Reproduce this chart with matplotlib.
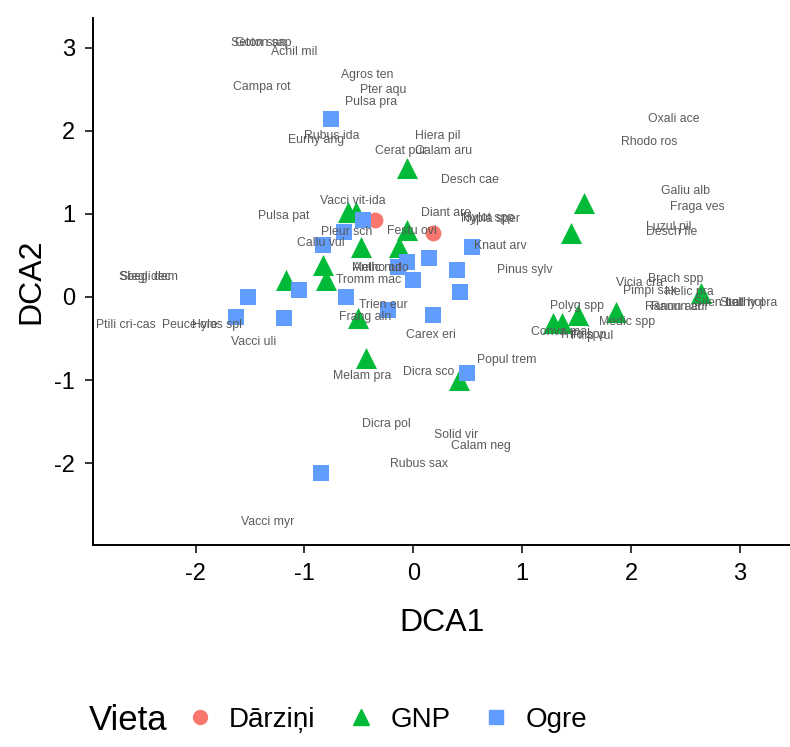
import matplotlib
matplotlib.use("Agg")
import matplotlib.pyplot as plt
from matplotlib.lines import Line2D
from matplotlib.offsetbox import HPacker

plt.rcParams['font.family'] = ['Liberation Sans', 'DejaVu Sans']
plt.rcParams['axes.unicode_minus'] = False

# site scores (DCA1, DCA2) per group
darzini_x = [-0.35, 0.18]
darzini_y = [0.93, 0.77]

gnp_x = [-0.06, -0.60, -0.53, -0.48, -0.06, -0.13, -0.83, -0.80, -1.17, -0.51,
         -0.43, 0.42, 1.57, 1.45, 1.28, 1.37, 1.51, 1.86, 2.64]
gnp_y = [1.55, 1.02, 1.02, 0.60, 0.81, 0.60, 0.39, 0.20, 0.20, -0.25,
         -0.73, -1.00, 1.13, 0.77, -0.31, -0.31, -0.22, -0.18, 0.05]

ogre_x = [-0.76, -0.46, -0.64, -0.83, 0.14, 0.54, -0.14, -0.06, 0.00, 0.40,
          0.43, -0.62, -1.05, -1.19, -0.23, 0.18, -1.52, -1.63, 0.49, -0.85]
ogre_y = [2.14, 0.93, 0.78, 0.63, 0.47, 0.60, 0.36, 0.42, 0.20, 0.33,
          0.06, 0.00, 0.08, -0.25, -0.16, -0.22, 0.00, -0.24, -0.92, -2.12]

# species scores
species = ["Seton san", "Goton sap", "Achil mil", "Campa rot", "Agros ten", "Pter aqu",
           "Pulsa pra", "Rubus ida", "Eurhy ang", "Hiera pil", "Cerat pur", "Calam aru",
           "Desch cae", "Oxali ace", "Rhodo ros", "Galiu alb", "Fraga ves", "Luzul pil",
           "Desch fle", "Vacci vit-ida", "Pulsa pat", "Diant are", "Hylot spp", "Nypla sper",
           "Pleur sch", "Festu ovi", "Callu vul", "Knaut arv", "Pinus sylv", "Antho odo",
           "Melic nut", "Tromm mac", "Siegl dec", "Sbegi dem", "Trien eur", "Frang aln",
           "Ptili cri-cas", "Peuce ore", "Hylos spl", "Vacci uli", "Carex eri", "Melam pra",
           "Dicra sco", "Popul trem", "Dicra pol", "Solid vir", "Calam neg", "Rubus sax",
           "Vacci myr", "Polyg spp", "Medic spp", "Conva maj", "Trifo spp", "Filip vul",
           "Vicia cra", "Brach spp", "Pimpi sax", "Helic pra", "Ranun acr", "Ranun aur",
           "Silen nut", "Stell hol", "Lathy pra"]
sp_x = [-1.42, -1.38, -1.09, -1.39, -0.42, -0.28, -0.39, -0.75, -0.89, 0.22, -0.12, 0.28,
        0.52, 2.39, 2.17, 2.50, 2.61, 2.35, 2.37, -0.56, -1.19, 0.30, 0.69, 0.71,
        -0.61, -0.01, -0.85, 0.80, 1.02, -0.30, -0.34, -0.41, -2.46, -2.43, -0.28, -0.44,
        -2.64, -2.05, -1.80, -1.47, 0.16, -0.47, 0.14, 0.86, -0.25, 0.39, 0.62, 0.05,
        -1.34, 1.50, 1.96, 1.35, 1.56, 1.64, 2.08, 2.41, 2.17, 2.54, 2.39, 2.45,
        2.80, 3.02, 3.11]
sp_y = [3.06, 3.06, 2.95, 2.53, 2.67, 2.49, 2.35, 1.94, 1.89, 1.94, 1.76, 1.76,
        1.41, 2.14, 1.87, 1.28, 1.08, 0.84, 0.78, 1.16, 0.98, 1.01, 0.95, 0.94,
        0.78, 0.80, 0.65, 0.61, 0.33, 0.35, 0.35, 0.20, 0.24, 0.24, -0.10, -0.24,
        -0.34, -0.34, -0.34, -0.54, -0.46, -0.95, -0.90, -0.76, -1.53, -1.66, -1.80, -2.01,
        -2.71, -0.11, -0.30, -0.42, -0.46, -0.47, 0.17, 0.22, 0.07, 0.06, -0.12, -0.12,
        -0.07, -0.07, -0.07]

fig = plt.figure(figsize=(7.9, 7.47), dpi=100)
ax = fig.add_axes([0.118, 0.270, 0.882, 0.706])

ax.scatter(darzini_x, darzini_y, marker='o', s=130, color='#F8766D', linewidths=0, zorder=3)
ax.scatter(gnp_x, gnp_y, marker='^', s=230, color='#00BA38', linewidths=0, zorder=3)
ax.scatter(ogre_x, ogre_y, marker='s', s=140, color='#619CFF', linewidths=0, zorder=3)

for name, x, y in zip(species, sp_x, sp_y):
    ax.text(x, y, name, fontsize=8.8, color='#5a5a5a', ha='center', va='center', zorder=4)

ax.set_xlim(-2.94, 3.46)
ax.set_ylim(-2.99, 3.36)
ax.set_xticks([-2, -1, 0, 1, 2, 3])
ax.set_yticks([-2, -1, 0, 1, 2, 3])
ax.tick_params(labelsize=17, length=6, width=1.1, pad=7, colors='black')
ax.set_xlabel('DCA1', fontsize=23, labelpad=16)
ax.set_ylabel('DCA2', fontsize=23, labelpad=6)
for side in ['top', 'right']:
    ax.spines[side].set_visible(False)
for side in ['left', 'bottom']:
    ax.spines[side].set_linewidth(1.4)

handles = [
    Line2D([], [], marker='o', linestyle='none', color='#F8766D', markersize=10),
    Line2D([], [], marker='^', linestyle='none', color='#00BA38', markersize=12),
    Line2D([], [], marker='s', linestyle='none', color='#619CFF', markersize=10),
]
leg = fig.legend(handles, ['Dārziņi', 'GNP', 'Ogre'], title='Vieta', ncol=3,
                 loc='center', bbox_to_anchor=(0.428, 0.036), frameon=False,
                 fontsize=20, title_fontsize=25, handletextpad=0.4, columnspacing=1.0,
                 handlelength=1.3)
# put title inline with entries
box = leg._legend_box
box._children = [HPacker(children=[box._children[0], box._children[1]], align='center', pad=0, sep=10)]

fig.savefig('out.png', dpi=100)
